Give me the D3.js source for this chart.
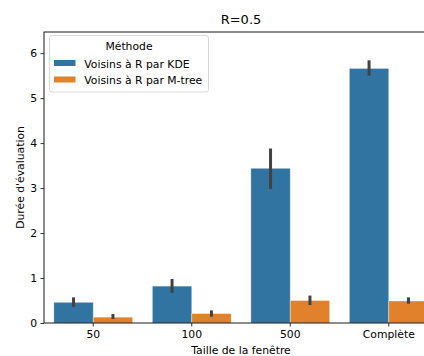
<!DOCTYPE html>
<html>
<head>
<meta charset="utf-8">
<script src="https://cdn.jsdelivr.net/npm/d3@7"></script>
<style>
  html, body { margin: 0; padding: 0; background: #fff; }
  svg { display: block; font-family: "DejaVu Sans", sans-serif; }
</style>
</head>
<body>
<svg id="chart" width="424" height="356"></svg>
<script>
// Window sizes and methods compared
const categories = ["50", "100", "500", "Complète"];
const methods = ["Voisins à R par KDE", "Voisins à R par M-tree"];
const colors = ["#3274a1", "#e1812c"];

// Mean evaluation time per window size
const kdeMeans   = [0.46, 0.82, 3.44, 5.66];
const mtreeMeans = [0.13, 0.21, 0.50, 0.49];
// Confidence interval bounds
const kdeLow     = [0.36, 0.67, 2.98, 5.50];
const kdeHigh    = [0.57, 0.98, 3.88, 5.84];
const mtreeLow   = [0.09, 0.14, 0.40, 0.43];
const mtreeHigh  = [0.20, 0.28, 0.61, 0.57];

const yTicks = [0, 1, 2, 3, 4, 5, 6];

const series = [
  { name: methods[0], color: colors[0], means: kdeMeans, low: kdeLow, high: kdeHigh },
  { name: methods[1], color: colors[1], means: mtreeMeans, low: mtreeLow, high: mtreeHigh }
];

const FS = 10.8;
const margin = { left: 44, top: 32, right: 438, bottom: 323 };
const svg = d3.select("#chart");

const x = d3.scaleBand().domain(categories).range([margin.left, margin.right]).paddingInner(0.2).paddingOuter(0.1);
const xs = d3.scaleBand().domain(methods).range([0, x.bandwidth()]);
const y = d3.scaleLinear().domain([0, 6.47]).range([margin.bottom, margin.top]);

// Bars
series.forEach(s => {
  svg.append("g").selectAll("rect").data(categories).join("rect")
    .attr("x", (c) => x(c) + xs(s.name))
    .attr("width", xs.bandwidth())
    .attr("y", (c, i) => y(s.means[i]))
    .attr("height", (c, i) => y(0) - y(s.means[i]))
    .attr("fill", s.color)
    .attr("stroke", "rgba(255,255,255,0.45)")
    .attr("stroke-width", 0.8);
});

// Error bars
series.forEach(s => {
  svg.append("g").selectAll("line").data(categories).join("line")
    .attr("x1", (c) => x(c) + xs(s.name) + xs.bandwidth() / 2)
    .attr("x2", (c) => x(c) + xs(s.name) + xs.bandwidth() / 2)
    .attr("y1", (c, i) => y(s.low[i]))
    .attr("y2", (c, i) => y(s.high[i]))
    .attr("stroke", "#424242")
    .attr("stroke-width", 3);
});

// Axes
const xAxis = svg.append("g")
  .attr("transform", `translate(0,${margin.bottom})`)
  .call(d3.axisBottom(x).tickSizeOuter(0).tickSize(3.5).tickPadding(3.5));
const yAxis = svg.append("g")
  .attr("transform", `translate(${margin.left},0)`)
  .call(d3.axisLeft(y).tickValues(yTicks).tickFormat(d3.format("d")).tickSizeOuter(0).tickSize(3.5).tickPadding(3.5));
[xAxis, yAxis].forEach(a => {
  a.select(".domain").remove();
  a.selectAll("text").attr("font-size", FS).attr("fill", "#000").attr("font-family", "DejaVu Sans");
  a.selectAll("line").attr("stroke", "#000").attr("stroke-width", 0.8);
});

// Frame
svg.append("rect")
  .attr("x", margin.left).attr("y", margin.top)
  .attr("width", margin.right - margin.left).attr("height", margin.bottom - margin.top)
  .attr("fill", "none").attr("stroke", "#000").attr("stroke-width", 0.9);

// Title and axis labels
svg.append("text").attr("x", (margin.left + margin.right) / 2).attr("y", 24)
  .attr("text-anchor", "middle").attr("font-size", 13).text("R=0.5");
svg.append("text").attr("x", (margin.left + margin.right) / 2).attr("y", 353.5)
  .attr("text-anchor", "middle").attr("font-size", FS).text("Taille de la fenêtre");
svg.append("text")
  .attr("transform", `translate(23.5,${(margin.top + margin.bottom) / 2}) rotate(-90)`)
  .attr("text-anchor", "middle").attr("font-size", FS).text("Durée d'évaluation");

// Legend
const lg = svg.append("g").attr("transform", "translate(49.5,35.5)");
lg.append("rect").attr("width", 159).attr("height", 56.5).attr("rx", 2.5)
  .attr("fill", "rgba(255,255,255,0.8)").attr("stroke", "#d0d0d0").attr("stroke-width", 0.8);
lg.append("text").attr("x", 79.5).attr("y", 14.5).attr("text-anchor", "middle")
  .attr("font-size", FS).text("Méthode");
series.forEach((s, i) => {
  lg.append("rect").attr("x", 4.5).attr("y", 24.5 + i * 16.5).attr("width", 21.5).attr("height", 6).attr("fill", s.color);
  lg.append("text").attr("x", 34.8).attr("y", 32.2 + i * 16.5).attr("font-size", FS).text(s.name);
});
</script>
</body>
</html>
